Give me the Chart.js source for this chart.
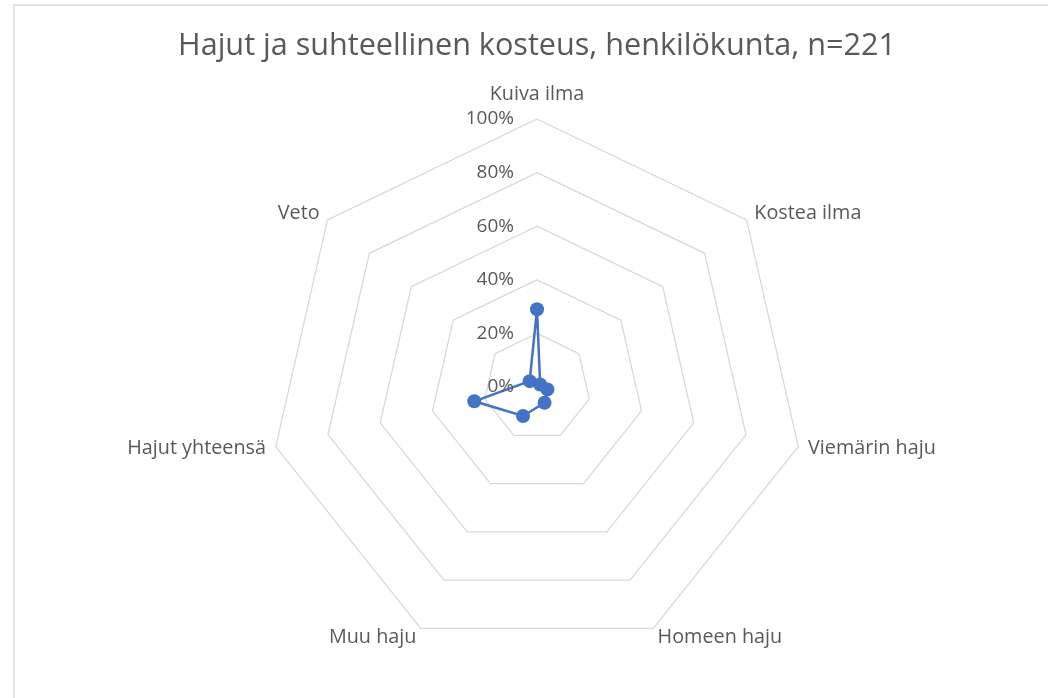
<!DOCTYPE html>
<html>
<head>
<meta charset="utf-8">
<script src="https://cdn.jsdelivr.net/npm/chart.js@4"></script>
<style>
  html, body { margin: 0; padding: 0; background: #fff; overflow: hidden; }
  #wrap { position: absolute; left: 0; top: 0; width: 1048px; height: 698px; }
  #frame { position: absolute; left: 13px; top: 4px; width: 1100px; height: 800px; border: 2px solid #e2e2e2; box-sizing: border-box; }
</style>
</head>
<body>
<div id="wrap">
  <div id="frame"></div>
  <canvas id="canvas" width="1048" height="698"></canvas>
</div>
<script>
// categories and values (%)
var categories = ['Kuiva ilma', 'Kostea ilma', 'Viemärin haju', 'Homeen haju', 'Muu haju', 'Hajut yhteensä', 'Veto'];
var values = [29, 1.5, 4, 6.5, 12, 24, 3.5];
var tickValues = [0, 20, 40, 60, 80, 100];
var titleText = 'Hajut ja suhteellinen kosteus, henkilökunta, n=221';

var textColor = '#595959';
var fontName = '"Open Sans"';

// title, axis labels and the % ticks in Excel style (ticks beside the axis)
var excelLabels = {
  id: 'excelLabels',
  afterDraw: function (chart) {
    var scale = chart.scales.r;
    var c = chart.ctx;
    c.save();
    c.fillStyle = textColor;

    // title (drawn here so it is not squeezed into the padded box)
    c.font = '30.6px ' + fontName;
    c.textAlign = 'center';
    c.textBaseline = 'middle';
    c.fillText(titleText, scale.xCenter, 46);

    // tick labels, to the left of the vertical axis
    c.font = '19px ' + fontName;
    c.textAlign = 'right';
    c.textBaseline = 'middle';
    tickValues.forEach(function (v) {
      var d = scale.getDistanceFromCenterForValue(v);
      c.fillText(v + '%', scale.xCenter - 23, scale.yCenter - d);
    });

    // category labels
    c.font = '19.8px ' + fontName;
    var r = scale.drawingArea;
    categories.forEach(function (lab, i) {
      var p = scale.getPointPosition(i, r + 10);
      var dx = p.x - scale.xCenter;
      if (Math.abs(dx) < 2) {
        c.textAlign = 'center';
        c.textBaseline = 'bottom';
        c.fillText(lab, p.x, p.y - 5);
      } else {
        c.textAlign = dx > 0 ? 'left' : 'right';
        c.textBaseline = 'middle';
        c.fillText(lab, p.x, p.y);
      }
    });
    c.restore();
  }
};

new Chart(document.getElementById('canvas'), {
  type: 'radar',
  data: {
    labels: categories,
    datasets: [
      {
        label: 'Henkilökunta',
        data: values,
        borderColor: '#4472C4',
        backgroundColor: '#4472C4',
        borderWidth: 2.5,
        pointRadius: 7,
        pointBorderWidth: 0,
        pointBackgroundColor: '#4472C4',
        fill: false,
      },
    ],
  },
  options: {
    responsive: false,
    animation: false,
    layout: {
      padding: { left: 269, right: 243, top: 119, bottom: 43 },
    },
    plugins: {
      legend: { display: false },
      tooltip: { enabled: false },
      title: { display: false },
    },
    scales: {
      r: {
        min: 0,
        max: 100,
        ticks: { display: false, stepSize: 20 },
        pointLabels: { display: false },
        angleLines: { display: false },
        grid: { color: '#d9d9d9', lineWidth: 1.3 },
      },
    },
  },
  plugins: [excelLabels],
});
</script>
</body>
</html>
